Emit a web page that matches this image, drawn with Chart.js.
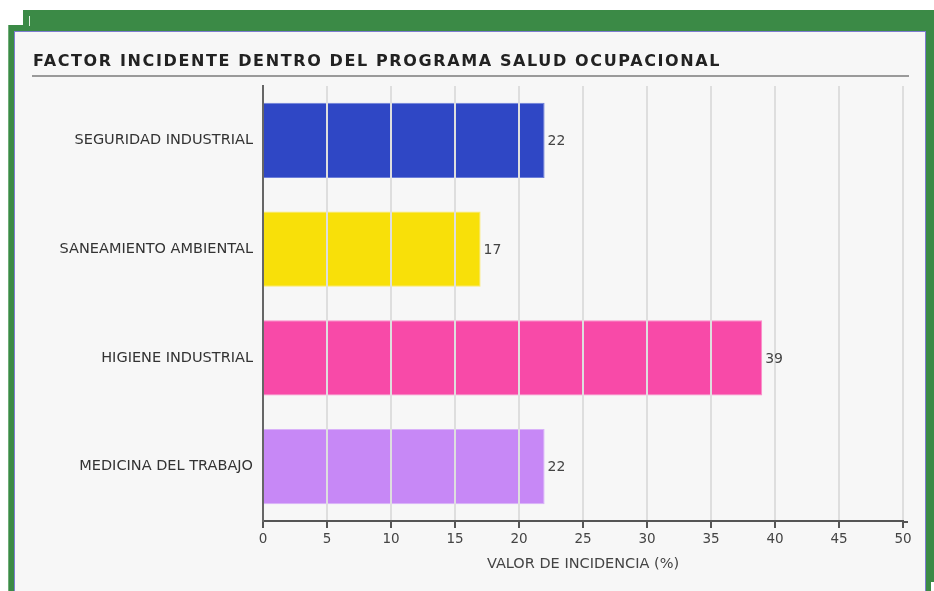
<!DOCTYPE html>
<html><head><meta charset="utf-8">
<script src="https://cdn.jsdelivr.net/npm/chart.js@4.4.1/dist/chart.umd.min.js"></script>
<style>
html,body{margin:0;padding:0;background:#fff;width:934px;height:591px;overflow:hidden;}
.g{position:absolute;background:#3b8a46;}
#panel{position:absolute;left:14px;top:31px;width:910px;height:570px;background:#f7f7f7;border:1px solid #7d7dd0;border-bottom:none;}
#wrap{position:absolute;left:0;top:0;width:934px;height:591px;}
</style></head><body>
<div class="g" style="left:23px;top:10px;width:911px;height:581px"></div>
<div class="g" style="left:8px;top:25px;width:926px;height:566px"></div>
<div style="position:absolute;left:8px;top:25px;width:1px;height:566px;background:#6fae78"></div>
<div style="position:absolute;left:29px;top:16px;width:1px;height:10px;background:#dfeee0"></div>
<div id="panel"></div>
<div style="position:absolute;left:931px;top:582px;width:3px;height:9px;background:#fff"></div>
<div id="wrap"><canvas id="c" width="934" height="591"></canvas></div>
<script>
const categories = ['SEGURIDAD INDUSTRIAL', 'SANEAMIENTO AMBIENTAL', 'HIGIENE INDUSTRIAL', 'MEDICINA DEL TRABAJO'];
const values = [22, 17, 39, 22];
const barColors = ['#2f47c5', '#f8e009', '#f84aa8', '#c788f6'];
const barBorderColors = ['#6d7fd9', '#fbe96a', '#fa8dc9', '#d9b2f9'];
const xTicks = [0, 5, 10, 15, 20, 25, 30, 35, 40, 45, 50];
const chartTitle = 'FACTOR INCIDENTE DENTRO DEL PROGRAMA SALUD OCUPACIONAL';
const xAxisTitle = 'VALOR DE INCIDENCIA (%)';

const titlePlugin = {
  id: 'titleUnderline',
  afterDraw(chart) {
    const ctx = chart.ctx;
    ctx.save();
    ctx.font = 'bold 16px "DejaVu Sans"';
    try { ctx.letterSpacing = '1.62px'; } catch (e) {}
    ctx.fillStyle = '#222';
    ctx.textAlign = 'left';
    ctx.textBaseline = 'alphabetic';
    ctx.fillText(chartTitle, 33, 66);
    ctx.restore();
    ctx.save();
    ctx.strokeStyle = '#9a9a9a';
    ctx.lineWidth = 2;
    ctx.beginPath();
    ctx.moveTo(32, 76);
    ctx.lineTo(909, 76);
    ctx.stroke();
    ctx.restore();
  }
};

const valueLabels = {
  id: 'valueLabels',
  afterDraw(chart) {
    const ctx = chart.ctx;
    const meta = chart.getDatasetMeta(0);
    ctx.save();
    ctx.font = '14px "DejaVu Sans"';
    ctx.fillStyle = '#444';
    ctx.textAlign = 'left';
    ctx.textBaseline = 'middle';
    meta.data.forEach((bar, i) => {
      ctx.fillText(String(values[i]), bar.x + 3, bar.y + 1);
    });
    // small extension of the x axis line beyond the last tick
    const xs = chart.scales.x;
    ctx.strokeStyle = '#555';
    ctx.lineWidth = 2;
    ctx.beginPath();
    ctx.moveTo(chart.chartArea.right - 1, xs.top + 1);
    ctx.lineTo(chart.chartArea.right + 5, xs.top + 1);
    ctx.stroke();
    ctx.restore();
  }
};

new Chart(document.getElementById('c'), {
  type: 'bar',
  data: {
    labels: categories,
    datasets: [{
      data: values,
      backgroundColor: barColors,
      borderColor: barBorderColors,
      borderWidth: 1,
      categoryPercentage: 1,
      barPercentage: 0.69
    }]
  },
  options: {
    indexAxis: 'y',
    responsive: false,
    animation: false,
    devicePixelRatio: 1,
    layout: { padding: { top: 86, left: 33, right: 31, bottom: 15 } },
    plugins: { legend: { display: false }, title: { display: false }, tooltip: { enabled: false } },
    scales: {
      x: {
        min: 0, max: 50,
        afterBuildTicks: s => { s.ticks = xTicks.map(v => ({ value: v })); },
        grid: { color: '#dedede', lineWidth: 2, z: 1, drawTicks: true, tickLength: 7, tickColor: '#555', tickWidth: 2 },
        border: { color: '#555', width: 2, z: 1 },
        ticks: { color: '#444', font: { family: 'DejaVu Sans', size: 13.5 }, padding: 3, maxRotation: 0 },
        title: { display: true, text: xAxisTitle, color: '#444', font: { family: 'DejaVu Sans', size: 14.5 }, padding: { top: 0, bottom: 3 } },
        afterFit: s => { s.height = 55; }
      },
      y: {
        grid: { display: false, drawTicks: false },
        border: { color: '#666', width: 2, z: 1 },
        ticks: { color: '#333', font: { family: 'DejaVu Sans', size: 14.5 }, padding: 10 },
        afterFit: s => { s.width = 230; }
      }
    }
  },
  plugins: [titlePlugin, valueLabels]
});
</script>
</body></html>
